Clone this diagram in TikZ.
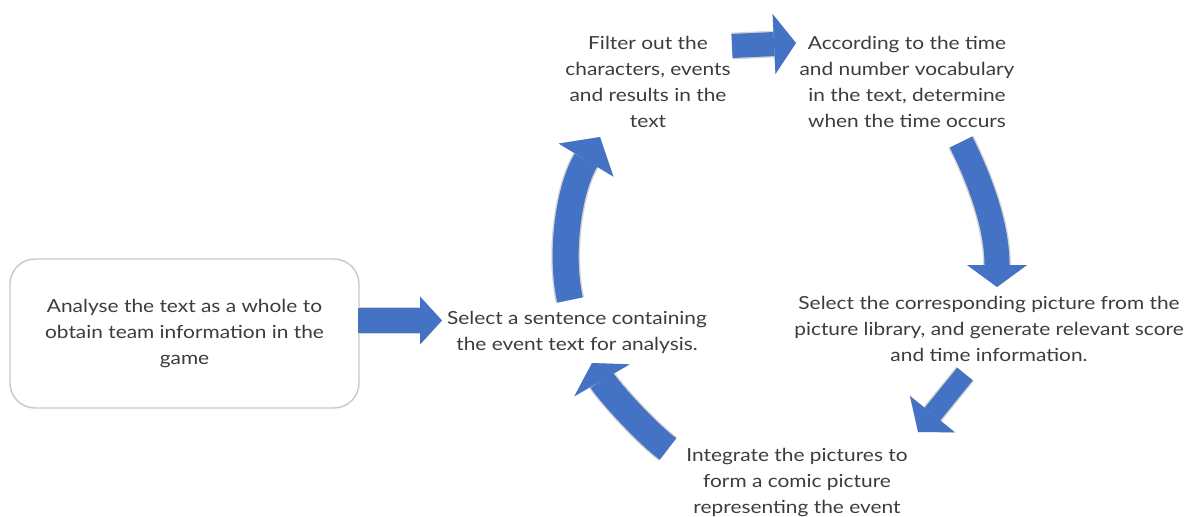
\documentclass[tikz,border=0pt]{standalone}
\usepackage{fontspec}
\setmainfont{Lato}[FakeStretch=1.16]
\usetikzlibrary{arrows.meta}
\definecolor{arrowblue}{HTML}{4472C4}
\definecolor{rimgray}{HTML}{D2D2D2}
\definecolor{textgray}{HTML}{3C3C3C}
\definecolor{boxgray}{HTML}{C8C8C8}
\tikzset{
  txt/.style={align=center, text=textgray, inner sep=0pt,
    font=\fontsize{9}{13}\selectfont},
  framebox/.style={draw=boxgray, line width=0.7pt, rounded corners=12.5pt,
    minimum width=174.5pt, minimum height=74.5pt, fill=white},
  % block arrow: shaft width, head width, head length
  barrow/.style n args={3}{
    preaction={draw=rimgray, line width=#1+1.4pt,
      -{Triangle[length=#3, width=#2, line width=1.2pt]}},
    draw=arrowblue, line width=#1,
    -{Triangle[length=#3, width=#2, line width=0pt]}
  }
}
\begin{document}
\begin{tikzpicture}[x=0.5pt, y=-0.5pt]
  \useasboundingbox (0,0) rectangle (1188,516);

  % step texts
  \node[framebox, txt] (analyse) at (184.5,333.5)
    {Analyse the text as a whole to\\obtain team information in the\\game};
  \node[txt] (selsent) at (577,332)
    {Select a sentence containing\\the event text for analysis.};
  \node[txt] (filter) at (648,82)
    {Filter out the\\characters, events\\and results in the\\text};
  \node[txt] (according) at (907,82)
    {According to the time\\and number vocabulary\\in the text, determine\\when the time occurs};
  \node[txt] (selpic) at (989,329)
    {Select the corresponding picture from the\\picture library, and generate relevant score\\and time information.};
  \node[txt] (integ) at (797,482)
    {Integrate the pictures to\\form a comic picture\\representing the event};

  % arrow ends
  \coordinate (a1s) at (358,320.5);  \coordinate (a1e) at (442,320.5);
  \coordinate (a2s) at (732,46);     \coordinate (a2e) at (796,43);
  \coordinate (a3s) at (961,142);    \coordinate (a3e) at (997,287);
  \coordinate (a4s) at (965,374);    \coordinate (a4e) at (918,432);
  \coordinate (a5s) at (668,449);    \coordinate (a5e) at (592,363);
  \coordinate (a6s) at (570,300);    \coordinate (a6e) at (600,137);

  % block arrows
  \draw[barrow={12.5pt}{24pt}{11pt}] (a1s) -- (a1e);
  \draw[barrow={12pt}{30pt}{11pt}] (a2s) -- (a2e);
  \draw[barrow={12.5pt}{30pt}{11pt}] (a3s) .. controls (981,182) and (997,227) .. (a3e);
  \draw[barrow={10pt}{29pt}{11.5pt}] (a4s) -- (a4e);
  \draw[barrow={13.5pt}{32pt}{10pt}] (a5s) .. controls (644,431) and (607,389) .. (a5e);
  \draw[barrow={13pt}{32pt}{13.5pt}] (a6s) .. controls (560,255) and (568,190) .. (a6e);
\end{tikzpicture}
\end{document}
